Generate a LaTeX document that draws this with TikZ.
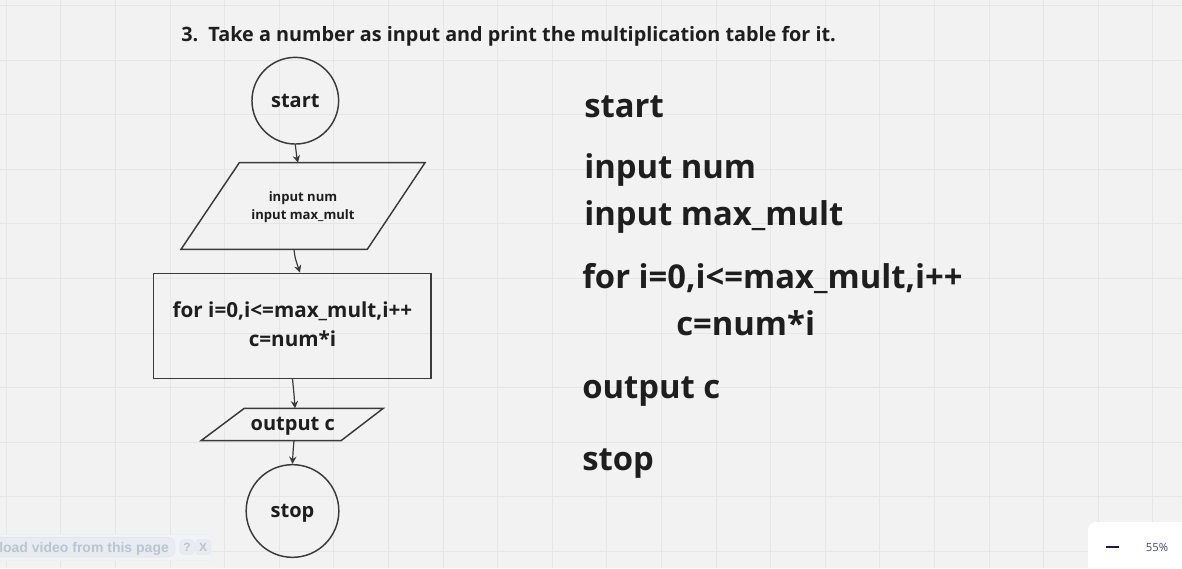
\documentclass[tikz,border=0pt]{standalone}
\usepackage{fontspec}
\setmainfont{Open Sans}
\newfontfamily\arialf{Liberation Sans}
\usetikzlibrary{arrows.meta}
\definecolor{bg}{HTML}{F2F2F2}
\definecolor{gridc}{HTML}{E6E6E6}
\definecolor{ink}{HTML}{1E1E1E}
\definecolor{edgec}{HTML}{3A3A3A}
\definecolor{widgetfill}{HTML}{E8ECF2}
\definecolor{widgettext}{HTML}{BCC4CF}
\definecolor{navy}{HTML}{1A1A4A}
\tikzset{
  shapeline/.style={draw=edgec,line width=1.1pt},
  termnode/.style={circle,shapeline,inner sep=0pt,text=ink,font=\bfseries\fontsize{15}{18}\selectfont},
  smalltext/.style={text=ink,align=center,font=\bfseries\fontsize{9.8}{13.5}\selectfont},
  midtext/.style={text=ink,align=center,font=\bfseries\fontsize{15.5}{21.75}\selectfont},
  bigtext/.style={anchor=base west,inner sep=0pt,text=ink,font=\bfseries\fontsize{24.6}{30}\selectfont},
  flow/.style={draw=edgec,line width=0.9pt,-{Stealth[length=5.5pt,width=5.5pt]}},
}
\begin{document}
\begin{tikzpicture}[x=0.75pt,y=-0.75pt]
\fill[bg] (0,0) rectangle (1182,568);
\useasboundingbox (0,0) rectangle (1182,568);
\foreach \i in {0,...,21} \draw[gridc,line width=0.75pt] ({6.2+54.6*\i},0) -- ++(0,568);
\foreach \j in {0,...,10} \draw[gridc,line width=0.75pt] (0,{5.4+54.6*\j}) -- ++(1182,0);

% title
\node[anchor=base west,inner sep=0pt,text=ink,font=\bfseries\fontsize{14.85}{18}\selectfont] (title) at (181,41) {3.\ \ Take a number as input and print the multiplication table for it.};

% flowchart
\node[termnode,minimum size=65pt] (start) at (295.3,100.7) {start};

\draw[shapeline] (239.3,162.7) -- (425,162.7) -- (367.3,249.3) -- (181,249.3) -- cycle;
\coordinate (inTop) at (298,162.7);
\coordinate (inBot) at (294,249.3);
\node[smalltext] (input) at (303,207) {input num\\input max\_mult};

\node[shapeline,minimum width=208pt,minimum height=78.75pt,inner sep=0pt] (loop) at (292.2,325.8) {};
\node[midtext] (looptext) at (292.5,324.5) {for i=0,i<=max\_mult,i++\\c=num*i};

\draw[shapeline] (244.3,408.3) -- (383.3,408.3) -- (341,440.7) -- (201,440.7) -- cycle;
\coordinate (outTop) at (295,408.3);
\coordinate (outBot) at (294,440.7);
\node[midtext,font=\bfseries\fontsize{15}{18}\selectfont] (output) at (292.8,426) {output c};

\node[termnode,minimum size=69.5pt] (stop) at (292.5,511) {};
\node[text=ink,font=\bfseries\fontsize{15}{18}\selectfont] (stoptext) at (292.5,513) {stop};

\draw[flow] (start.south) .. controls (295.5,152) .. (inTop);
\draw[flow] (inBot) .. controls (295,258) .. (loop.north -| 300,0);
\draw[flow] (loop.south -| 292.5,0) .. controls (294,394) .. (outTop);
\draw[flow] (outBot) .. controls (293,452) .. (stop.north);

% pseudo code
\node[bigtext] (p1) at (584,117) {start};
\node[bigtext] (p2) at (584,178) {input num};
\node[bigtext] (p3) at (584,225) {input max\_mult};
\node[bigtext] (p4) at (582,288) {for i=0,i<=max\_mult,i++};
\node[bigtext] (p5) at (676,335) {c=num*i};
\node[bigtext] (p6) at (582,398) {output c};
\node[bigtext] (p7) at (582,470) {stop};

% overlay widget (bottom left)
\draw[draw=widgetfill!80!gray!40,fill=widgetfill!60] (-2,534.5) rectangle (211,560);
\draw[draw=widgetfill!70!gray!50,fill=widgetfill,rounded corners=5pt] (-10,537.5) rectangle (175,557);
\node[anchor=base west,inner sep=0pt,text=widgettext,font=\arialf\bfseries\fontsize{10.5}{12}\selectfont] (wtext) at (-1,552) {load video from this page};
\node[text=widgettext,font=\arialf\bfseries\fontsize{9}{10}\selectfont,draw=widgetfill!70!gray!50,fill=widgetfill,rounded corners=3pt,inner sep=1pt,minimum size=11pt] (whelp) at (187,547) {?};
\node[text=widgettext,font=\arialf\bfseries\fontsize{9}{10}\selectfont,draw=widgetfill!70!gray!50,fill=widgetfill,rounded corners=2pt,inner sep=1pt,minimum size=11pt] (wclose) at (203,547) {X};

% zoom panel (bottom right)
\fill[white,rounded corners=6pt] (1088,522) rectangle (1200,590);
\draw[navy,line width=1.5pt] (1106,547) -- (1119,547);
\node[text=navy!80,font=\fontsize{8.5}{10}\selectfont] (zoom) at (1157,547) {55\%};
\end{tikzpicture}
\end{document}
